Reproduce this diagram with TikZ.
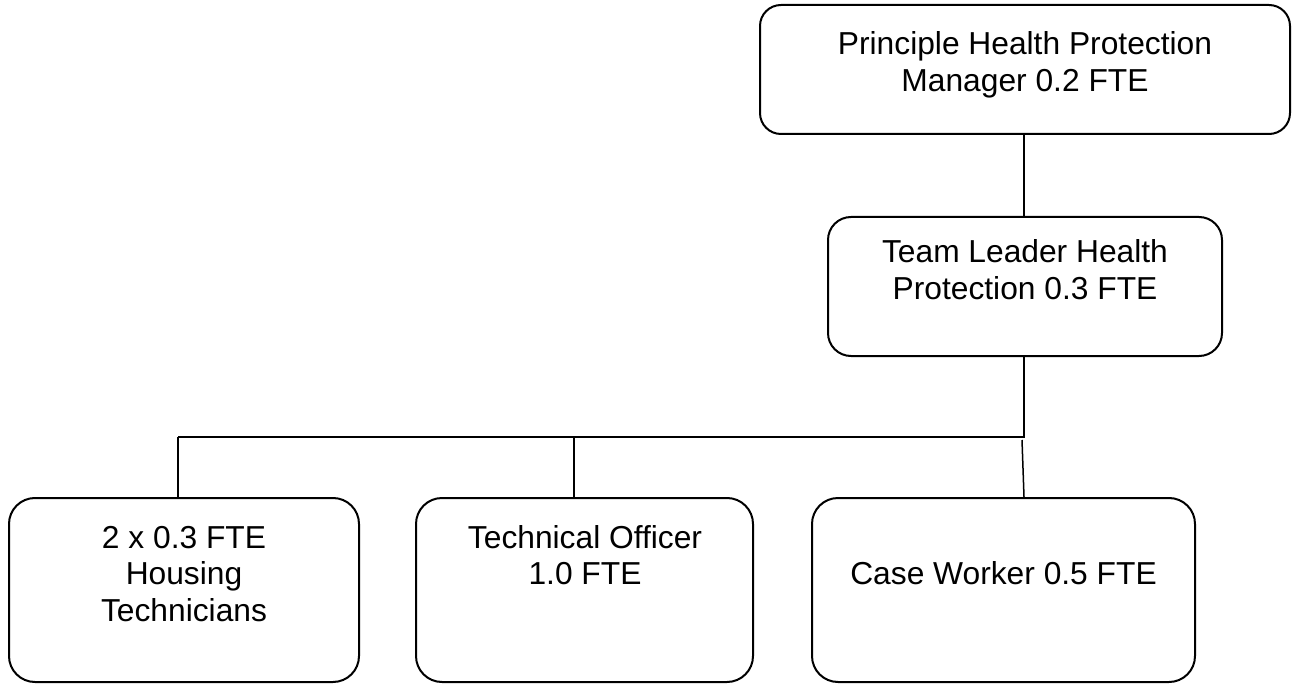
\documentclass[tikz,border=0pt]{standalone}
\usepackage{fontspec}
\setmainfont{Liberation Sans}
\begin{document}
\begin{tikzpicture}[x=1pt,y=-1pt,
  box/.style={draw, line width=2pt, rounded corners=#1, inner sep=0pt},
  box/.default=24pt,
  lbl/.style={anchor=base, align=center, font=\fontsize{31.75}{36.5}\selectfont, inner sep=0pt},
  conn/.style={line width=1.5pt}]
\useasboundingbox (0,0) rectangle (1292,684);
% boxes
\node[box=21pt, minimum width=530pt, minimum height=129pt] (top) at (1025,69.5) {};
\node[box=23pt, minimum width=394pt, minimum height=139pt] (mid) at (1025,286.5) {};
\node[box=26pt, minimum width=350pt, minimum height=184pt] (b1) at (184,590) {};
\node[box=26pt, minimum width=337pt, minimum height=184pt] (b2) at (584.5,590) {};
\node[box=26pt, minimum width=383pt, minimum height=184pt] (b3) at (1003.5,590) {};
% texts (anchor at baseline of the last line)
\node[lbl] (ttop) at (1025,91.5) {Principle Health Protection\\Manager 0.2 FTE};
\node[lbl] (tmid) at (1025,299.5) {Team Leader Health\\Protection 0.3 FTE};
\node[lbl] (tb1) at (184,621) {2 x 0.3 FTE\\Housing\\Technicians};
\node[lbl] (tb2) at (585,584.5) {Technical Officer\\1.0 FTE};
\node[lbl] (tb3) at (1003.5,584) {Case Worker 0.5 FTE};
% connectors
\coordinate (jR) at (1024,437);
\coordinate (jL) at (178,437);
\coordinate (jM) at (574,437);
\coordinate (jR2) at (1022,440);
\draw[conn] (top.south -| jR) -- (mid.north -| jR);
\draw[conn] (mid.south -| jR) -- (jR) -- (jL);
\draw[conn] (jL) -- (b1.north -| jL);
\draw[conn] (jM) -- (b2.north -| jM);
\draw[conn] (jR2) -- (b3.north -| jR);
\end{tikzpicture}
\end{document}
